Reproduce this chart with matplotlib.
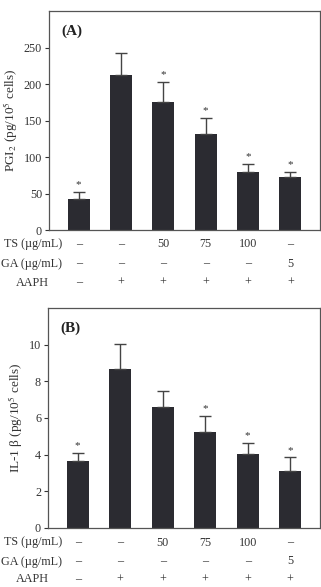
import numpy as np
import matplotlib.pyplot as plt
from matplotlib.transforms import blended_transform_factory

plt.rcParams['font.family'] = ['Liberation Serif', 'DejaVu Serif']
plt.rcParams['mathtext.fontset'] = 'stix'

ts_labels = ['–', '–', '50', '75', '100', '–']
ga_labels = ['–', '–', '–', '–', '–', '5']
aaph_labels = ['–', '+', '+', '+', '+', '+']

pgi2_mean = [42, 213, 176, 132, 80, 72]
pgi2_err = [10, 29, 27, 22, 11, 8]
pgi2_star = [True, False, True, True, True, True]

il1b_mean = [3.65, 8.65, 6.6, 5.25, 4.05, 3.1]
il1b_err = [0.45, 1.4, 0.9, 0.85, 0.6, 0.75]
il1b_star = [True, False, False, True, True, True]

bar_color = '#2b2b31'
txt_color = '#333333'
W, H = 321, 587
fs = 8.7


def panel(rect, means, errs, stars, ylim, yticks, ylabel, tag, row_y):
    ax = fig.add_axes(rect)
    x = np.arange(len(means))
    ax.bar(x, means, width=0.52, color=bar_color, zorder=2)
    ax.errorbar(x, means, yerr=[np.zeros(len(errs)), errs], fmt='none',
                ecolor='#444444', elinewidth=1, capsize=4, capthick=1, zorder=3)
    for xi, m, e, s in zip(x, means, errs, stars):
        if s:
            ax.annotate('*', (xi, m + e), xytext=(0, 2), textcoords='offset points',
                        ha='center', va='bottom', fontsize=8, color=txt_color)
    ax.set_xlim(-0.7, 5.7)
    ax.set_ylim(*ylim)
    ax.set_yticks(yticks)
    ax.set_xticks([])
    ax.tick_params(axis='y', direction='out', length=3, labelsize=fs, pad=2,
                   colors=txt_color)
    for sp in ax.spines.values():
        sp.set_color('#555555')
        sp.set_linewidth(0.9)
    ax.set_ylabel(ylabel, fontsize=9.5, color=txt_color, labelpad=3)
    ax.text(0.045, 0.89, tag, transform=ax.transAxes, fontsize=11,
            fontweight='bold', color='#222222')

    # treatment table under the bars
    tr = blended_transform_factory(ax.transData, fig.transFigure)
    rows = [ts_labels, ga_labels, aaph_labels]
    for ry, labels in zip(row_y, rows):
        base = 1 - (ry + 3.5) / H
        for xi, lab in zip(x, labels):
            ax.text(xi, base, lab, transform=tr, ha='center', va='baseline',
                    fontsize=fs, color=txt_color, clip_on=False)
    fig.text(62 / W, 1 - (row_y[0] + 3.5) / H, 'TS (µg/mL)', ha='right',
             va='baseline', fontsize=fs, color=txt_color)
    fig.text(62 / W, 1 - (row_y[1] + 3.5) / H, 'GA (µg/mL)', ha='right',
             va='baseline', fontsize=fs, color=txt_color)
    fig.text(32 / W, 1 - (row_y[2] + 3.5) / H, 'AAPH', ha='center',
             va='baseline', fontsize=fs, color=txt_color)
    return ax


fig = plt.figure(figsize=(W / 100, H / 100), dpi=100)

panel([49 / W, 1 - 230 / H, 271 / W, 219 / H], pgi2_mean, pgi2_err, pgi2_star,
      (0, 300), [0, 50, 100, 150, 200, 250],
      r'PGI$_2$ (pg/10$^5$ cells)', '(A)', [244, 263, 282])

panel([48 / W, 1 - 528 / H, 272 / W, 220 / H], il1b_mean, il1b_err, il1b_star,
      (0, 12), [0, 2, 4, 6, 8, 10],
      r'IL-1 β (pg/10$^5$ cells)', '(B)', [542, 561, 579])

fig.savefig('out.png', dpi=100)
